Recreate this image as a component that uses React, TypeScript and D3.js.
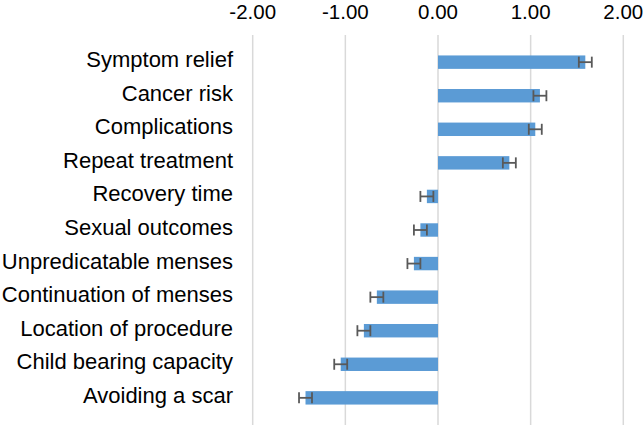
import { useEffect, useRef } from "react";
import * as d3 from "d3";

const categories = [
  "Symptom relief",
  "Cancer risk",
  "Complications",
  "Repeat treatment",
  "Recovery time",
  "Sexual outcomes",
  "Unpredicatable menses",
  "Continuation of menses",
  "Location of procedure",
  "Child bearing capacity",
  "Avoiding a scar",
];
const values = [1.59, 1.1, 1.05, 0.77, -0.12, -0.19, -0.26, -0.66, -0.8, -1.05, -1.43];
const errors = [0.07, 0.07, 0.07, 0.07, 0.07, 0.07, 0.07, 0.07, 0.07, 0.07, 0.07];
const tickValues = [-2, -1, 0, 1, 2];
const tickLabels = ["-2.00", "-1.00", "0.00", "1.00", "2.00"];

const WIDTH = 644;
const HEIGHT = 425;

const App = () => {
  const svgRef: any = useRef<SVGSVGElement>(null);

  useEffect(() => {
    const svg = d3.select(svgRef.current);
    svg.selectAll("*").remove();

    const x = d3.scaleLinear().domain([-2, 2]).range([252.7, 623.3]);
    const y = d3.scaleBand().domain(categories).range([35.3, 424.7]).padding(0.6);

    // grid lines
    svg
      .append("g")
      .selectAll("line")
      .data(tickValues)
      .join("line")
      .attr("x1", (d) => x(d))
      .attr("x2", (d) => x(d))
      .attr("y1", 35)
      .attr("y2", HEIGHT)
      .attr("stroke", "#d9d9d9")
      .attr("stroke-width", 1.5);

    // tick labels on top
    svg
      .append("g")
      .selectAll("text")
      .data(tickValues)
      .join("text")
      .attr("x", (d) => x(d))
      .attr("y", 18.6)
      .attr("text-anchor", "middle")
      .attr("font-family", "Liberation Sans, Arial, sans-serif")
      .attr("font-size", 20.5)
      .attr("fill", "#000")
      .text((_, i) => tickLabels[i]);

    // category labels
    svg
      .append("g")
      .selectAll("text")
      .data(categories)
      .join("text")
      .attr("x", 233)
      .attr("y", (d) => (y(d) as number) + y.bandwidth() / 2 + 5)
      .attr("text-anchor", "end")
      .attr("font-family", "Liberation Sans, Arial, sans-serif")
      .attr("font-size", 22)
      .attr("fill", "#000")
      .text((d) => d);

    // bars
    svg
      .append("g")
      .selectAll("rect")
      .data(values)
      .join("rect")
      .attr("x", (d) => x(Math.min(0, d)))
      .attr("width", (d) => Math.abs(x(d) - x(0)))
      .attr("y", (_, i) => y(categories[i]) as number)
      .attr("height", y.bandwidth())
      .attr("fill", "#5b9bd5");

    // error bars
    const eg = svg
      .append("g")
      .attr("stroke", "#595959")
      .attr("stroke-width", 1.8);
    values.forEach((v, i) => {
      const cy = (y(categories[i]) as number) + y.bandwidth() / 2;
      const x1 = x(v - errors[i]);
      const x2 = x(v + errors[i]);
      eg.append("line").attr("x1", x1).attr("x2", x2).attr("y1", cy).attr("y2", cy);
      eg.append("line").attr("x1", x1).attr("x2", x1).attr("y1", cy - 5.5).attr("y2", cy + 5.5);
      eg.append("line").attr("x1", x2).attr("x2", x2).attr("y1", cy - 5.5).attr("y2", cy + 5.5);
    });
  }, []);

  return (
    <svg
      ref={svgRef}
      width={WIDTH}
      height={HEIGHT}
      style={{ position: "absolute", left: 0, top: 0, background: "#fff" }}
    />
  );
};

export default App;
